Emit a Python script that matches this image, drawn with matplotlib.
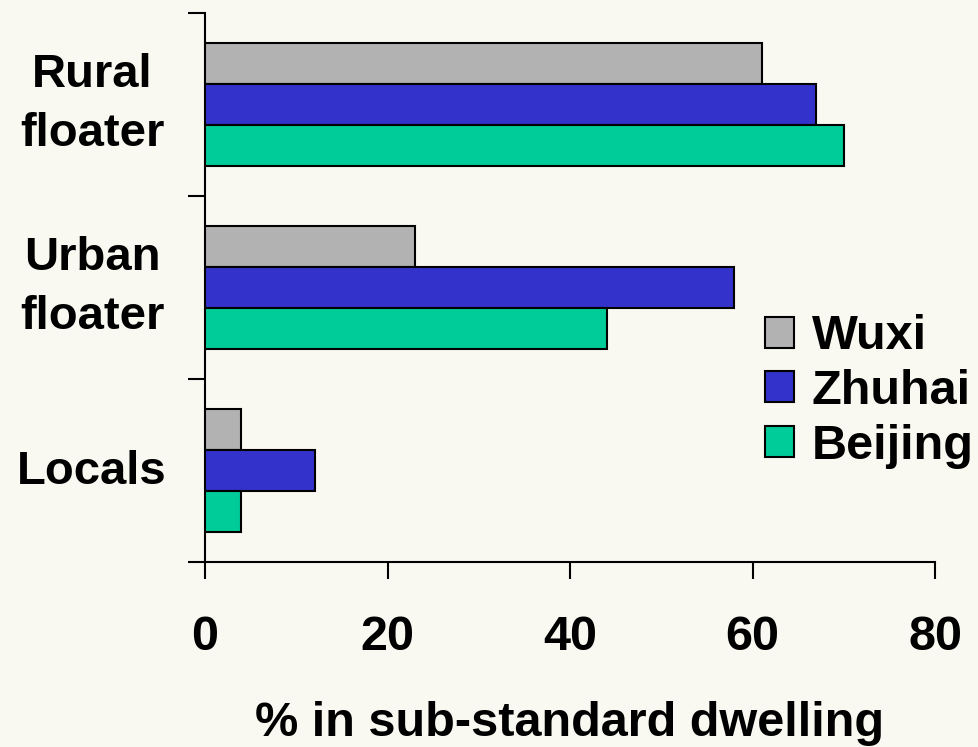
import matplotlib
matplotlib.use("Agg")
import matplotlib.pyplot as plt
import numpy as np
from matplotlib.patches import Patch

categories = ["Rural\nfloater", "Urban\nfloater", "Locals"]
series = ["Wuxi", "Zhuhai", "Beijing"]
wuxi = [61, 23, 4]
zhuhai = [67, 58, 12]
beijing = [70, 44, 4]
colors = ["#B2B2B2", "#3333CC", "#00CC99"]
xticks = [0, 20, 40, 60, 80]
xlabel = "% in sub-standard dwelling"

bg = "#F9F9F1"
FS = 34
FS2 = 35
plt.rcParams["font.family"] = ["Liberation Sans", "DejaVu Sans"]
plt.rcParams["font.weight"] = "bold"

W, H = 979, 747
fig = plt.figure(figsize=(W / 100, H / 100), dpi=100, facecolor=bg)
ax_w = (935 - 205) / W
ax = fig.add_axes([205 / W, 1 - 562 / H, ax_w, (562 - 13) / H])
ax.set_facecolor(bg)

n = len(categories)
ypos = np.arange(n)[::-1]  # top category at highest y
bh = 0.225
offsets = [bh, 0, -bh]
for vals, off, col, name in zip([wuxi, zhuhai, beijing], offsets, colors, series):
    ax.barh(ypos + off, vals, height=bh, color=col, edgecolor="black",
            linewidth=1.5, label=name, zorder=3)

ax.set_xlim(0, 80)
ax.set_ylim(-0.5, n - 0.5)
ax.set_xticks(xticks)
ax.set_xticklabels([str(t) for t in xticks], fontsize=FS2, fontweight="bold")

# category boundaries as ticks, category names centred between them
ax.set_yticks(np.arange(-0.5, n, 1.0))
ax.set_yticklabels([])
label_x = (92 - 205) / (935 - 205)  # axes fraction
for cat, y in zip(categories, ypos):
    dy = 0.0 if "\n" in cat else -0.008
    ax.text(label_x, y + dy, cat, transform=ax.get_yaxis_transform(),
            ha="center", va="center", multialignment="center",
            fontsize=FS, fontweight="bold", linespacing=1.45, clip_on=False)

ax.tick_params(axis="y", which="major", length=12, width=1.5, direction="out")
ax.tick_params(axis="x", which="major", length=12, width=1.5, direction="out", pad=26)

for s in ["top", "right"]:
    ax.spines[s].set_visible(False)
for s in ["left", "bottom"]:
    ax.spines[s].set_linewidth(1.5)

ax.set_xlabel(xlabel, fontsize=FS2, fontweight="bold", labelpad=30)

handles = [Patch(facecolor=c, edgecolor="black", linewidth=1.5) for c in colors]
leg = ax.legend(handles, series, loc="center left",
                bbox_to_anchor=(765 / W, 1 - 391.5 / H), bbox_transform=fig.transFigure,
                frameon=False, borderpad=0, borderaxespad=0,
                handlelength=0.6, handleheight=0.6, handletextpad=0.36,
                labelspacing=0.2, prop={"size": FS2, "weight": "bold"})

fig.savefig("out.png", dpi=100, facecolor=bg)
